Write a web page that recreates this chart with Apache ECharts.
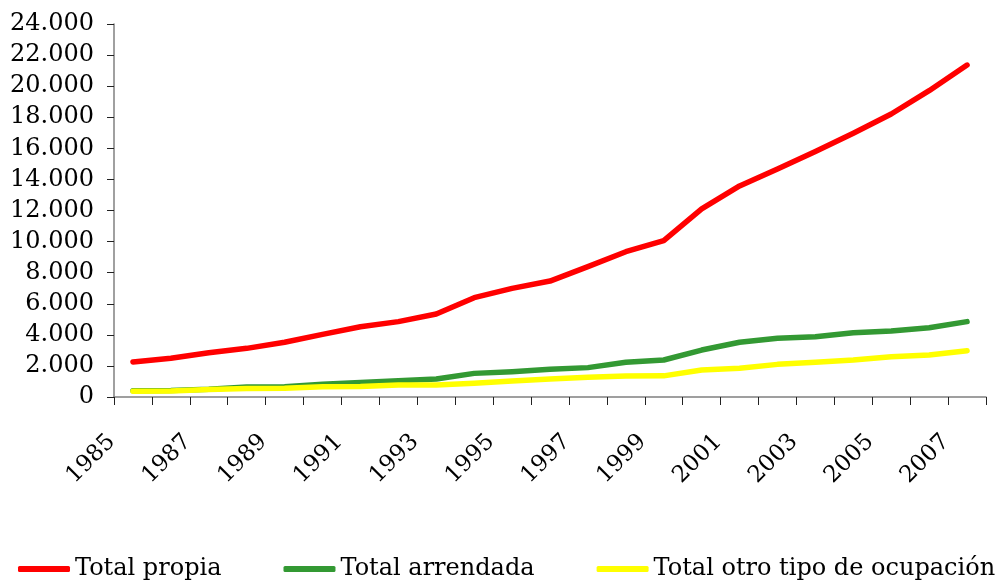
<!DOCTYPE html>
<html>
<head>
<meta charset="utf-8">
<script src="https://cdn.jsdelivr.net/npm/echarts@6/dist/echarts.min.js"></script>
<style>
  html, body { margin: 0; padding: 0; background: #fff; }
  #chart { width: 1006px; height: 582px; }
</style>
</head>
<body>
<div id="chart"></div>
<script>
var years = ['1985', '1986', '1987', '1988', '1989', '1990', '1991', '1992',
  '1993', '1994', '1995', '1996', '1997', '1998', '1999', '2000', '2001',
  '2002', '2003', '2004', '2005', '2006', '2007'];

var propia = [2250, 2490, 2850, 3130, 3520, 4030, 4520, 4850, 5340, 6390,
  6990, 7460, 8390, 9350, 10060, 12100, 13580, 14670, 15790, 16970,
  18210, 19710, 21360];

var arrendada = [400, 420, 500, 640, 660, 820, 930, 1050, 1160, 1520,
  1630, 1780, 1890, 2230, 2380, 3020, 3520, 3780, 3880, 4140,
  4250, 4460, 4850];

var otro = [370, 380, 490, 550, 560, 660, 670, 770, 780, 880,
  1030, 1160, 1270, 1350, 1360, 1740, 1850, 2100, 2230, 2380,
  2590, 2700, 2980];

var seriesNames = ['Total propia', 'Total arrendada', 'Total otro tipo de ocupación'];
var seriesColors = ['#ff0000', '#339933', '#ffff00'];

var font = '"DejaVu Serif", serif';

function thousands(v) {
  return String(v).replace(/\B(?=(\d{3})+(?!\d))/g, '.');
}

function makeLine(name, values, color) {
  return {
    name: name,
    type: 'line',
    data: values,
    symbol: 'none',
    lineStyle: { color: color, width: 5.5, cap: 'round', join: 'round' },
    itemStyle: { color: color }
  };
}

var chart = echarts.init(document.getElementById('chart'));
chart.setOption({
  animation: false,
  backgroundColor: '#ffffff',
  grid: { left: 114, right: 20, top: 24, bottom: 185, containLabel: false },
  legend: {
    data: seriesNames,
    left: 13,
    top: 552,
    itemGap: 62,
    itemWidth: 52,
    itemHeight: 6,
    icon: 'roundRect',
    textStyle: { fontFamily: font, fontSize: 24, color: '#000' }
  },
  xAxis: {
    type: 'category',
    data: years,
    boundaryGap: true,
    axisLine: { lineStyle: { color: '#808080', width: 1.5 } },
    axisTick: { show: true, length: 8, lineStyle: { color: '#222' }, interval: 0 },
    axisLabel: {
      interval: 1,
      rotate: 45,
      margin: 20,
      padding: [0, 30, 0, 0],
      fontFamily: font,
      fontSize: 23,
      color: '#000'
    },
    splitLine: { show: false }
  },
  yAxis: {
    type: 'value',
    min: 0,
    max: 24000,
    interval: 2000,
    axisLine: { show: true, lineStyle: { color: '#808080', width: 1.5 } },
    axisTick: { show: true, length: 7, lineStyle: { color: '#222' } },
    axisLabel: {
      margin: 20,
      fontFamily: font,
      fontSize: 24,
      color: '#000',
      formatter: thousands
    },
    splitLine: { show: false }
  },
  series: [
    makeLine(seriesNames[0], propia, seriesColors[0]),
    makeLine(seriesNames[1], arrendada, seriesColors[1]),
    makeLine(seriesNames[2], otro, seriesColors[2])
  ]
});
</script>
</body>
</html>
